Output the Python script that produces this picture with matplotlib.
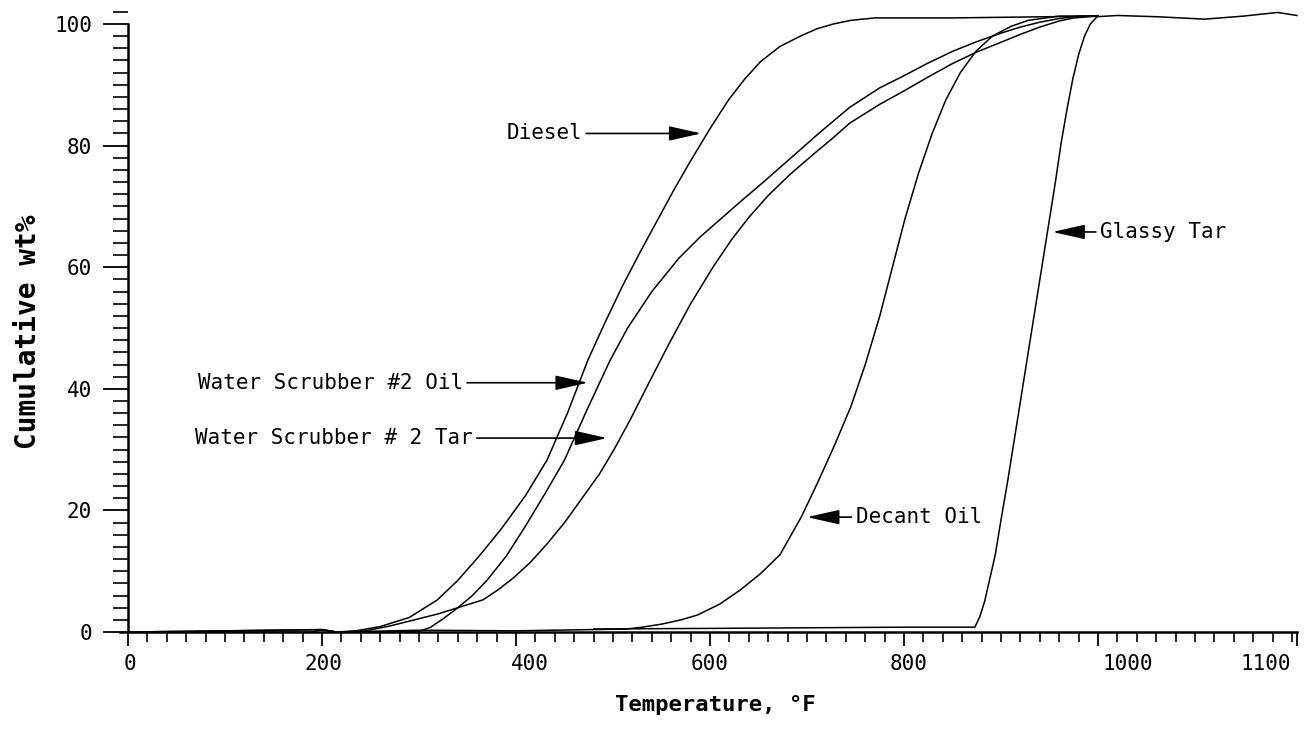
import matplotlib
matplotlib.use('Agg')
import matplotlib.pyplot as plt
from matplotlib.ticker import MultipleLocator, FixedLocator

# distillation curves, temperature (F) vs cumulative wt%
diesel_T = [0, 100, 190, 200, 215, 235, 260, 290, 319, 340, 362, 385, 410, 432,
            453, 474, 492, 510, 528, 546, 563, 580, 600, 619, 636, 652, 672,
            693, 710, 727, 745, 770, 850, 950, 1000]
diesel_W = [0, 0, 0, 0.4, 0, 0.2, 0.9, 2.4, 5.3, 8.5, 12.5, 17, 22.5, 28.3,
            36, 44.7, 51, 57, 62.5, 67.8, 72.8, 77.5, 82.8, 87.5, 91, 93.8, 96.3,
            98, 99.2, 100, 100.6, 101, 101, 101.2, 101.3]

oil_T = [0, 200, 215, 300, 312, 325, 340, 355, 370, 390, 410, 430, 450, 473,
         497, 515, 540, 568, 590, 610, 630, 655, 680, 712, 744, 775, 800, 825,
         850, 875, 900, 920, 940, 960, 980, 1000]
oil_W = [0, 0.4, 0, 0.1, 0.8, 2.2, 4, 6, 8.5, 12.5, 17.5, 22.8, 28.3, 36.5,
         44.7, 50, 56, 61.5, 65, 67.8, 70.6, 74, 77.5, 82, 86.3, 89.5, 91.5,
         93.6, 95.5, 97.1, 98.5, 99.5, 100.3, 100.9, 101.3, 101.3]

tar_T = [0, 200, 215, 245, 270, 300, 320, 340, 366, 382, 398, 415, 432, 450,
         468, 486, 501, 518, 537, 558, 580, 603, 622, 640, 660, 682, 706, 727,
         744, 775, 800, 825, 850, 875, 900, 920, 940, 960, 975, 1000]
tar_W = [0, 0.4, 0, 0.2, 1.0, 2.2, 3.0, 4, 5.3, 7, 9, 11.5, 14.5, 18,
         22, 26, 30, 35, 41, 47.5, 54, 60, 64.5, 68.2, 71.8, 75.2, 78.5, 81.3,
         83.7, 86.8, 89, 91.3, 93.5, 95.4, 97, 98.3, 99.5, 100.5, 101, 101.3]

decant_T = [200, 215, 300, 400, 514, 530, 550, 570, 587, 610, 631, 652, 672,
            694, 711, 728, 745, 760, 775, 788, 801, 815, 829, 843, 858, 874,
            891, 910, 928, 960, 1000]
decant_W = [0.3, 0, 0.3, 0.2, 0.5, 0.8, 1.3, 2.0, 2.8, 4.6, 6.9, 9.6, 12.7,
            18.9, 24.6, 30.6, 37, 44, 52, 60, 68, 75.5, 82, 87.5, 92, 95.5,
            98, 99.6, 100.6, 101.3, 101.3]

glassy_T = [480, 600, 700, 800, 873, 878, 883, 888, 894, 900, 907, 914, 921,
            928, 935, 942, 949, 956, 962, 968, 974, 980, 986, 992, 999, 1020,
            1060, 1110, 1150, 1185, 1205]
glassy_W = [0.5, 0.6, 0.7, 0.8, 0.8, 2.5, 5, 8.5, 12.7, 18.5, 25, 32, 39,
            46, 53, 60, 67, 74, 80.5, 86, 91, 95, 98, 100, 101.2, 101.4,
            101.2, 100.8, 101.3, 101.9, 101.4]

y_ticks = [0, 20, 40, 60, 80, 100]
x_major = [0, 200, 400, 600, 800, 1000, 1205]
# labels sit where the original print put them
x_label_pos = [2, 201, 414, 600, 805, 1031, 1173]
x_label_txt = ['0', '200', '400', '600', '800', '1000', '1100']

# label text, arrow tip (T, W), text start (T, W)
notes = [
    ('Diesel', (591, 82.0), (390, 82.0)),
    ('Water Scrubber #2 Oil', (474, 41.0), (72, 41.0)),
    ('Water Scrubber # 2 Tar', (494, 31.9), (69, 31.9)),
    ('Decant Oil', (700, 18.9), (750, 18.9)),
    ('Glassy Tar', (953, 65.8), (1002, 65.8)),
]

mono = 'DejaVu Sans Mono'

fig = plt.figure(figsize=(13.05, 7.35), dpi=100)
ax = fig.add_axes([0.09214, 0.1318, 0.9054, 0.8645])

for T, W in [(diesel_T, diesel_W), (oil_T, oil_W), (tar_T, tar_W),
             (decant_T, decant_W), (glassy_T, glassy_W)]:
    ax.plot(T, W, color='black', lw=1.1, clip_on=False)

ax.set_xlim(-8, 1210)
ax.set_ylim(-1, 103.5)

for s in ['top', 'right']:
    ax.spines[s].set_visible(False)
ax.spines['left'].set_position(('data', 0))
ax.spines['bottom'].set_position(('data', 0))
ax.spines['left'].set_bounds(0, 100)
ax.spines['bottom'].set_bounds(-8, 1205)
ax.spines['left'].set_linewidth(1.8)
ax.spines['bottom'].set_linewidth(1.8)

ax.set_yticks(y_ticks)
ax.set_yticklabels([str(v) for v in y_ticks], family=mono, fontsize=15)
ax.yaxis.set_minor_locator(MultipleLocator(2))
ax.tick_params(axis='y', which='major', length=18, width=1.3, pad=8)
ax.tick_params(axis='y', which='minor', length=11, width=1.2)

ax.xaxis.set_major_locator(FixedLocator(x_major))
ax.xaxis.set_minor_locator(MultipleLocator(20))
ax.tick_params(axis='x', which='major', length=10, width=1.3, labelbottom=False)
ax.tick_params(axis='x', which='minor', length=7, width=1.2)

sec = ax.secondary_xaxis(0)
sec.set_xticks(x_label_pos, labels=x_label_txt)
sec.tick_params(length=0, pad=11.5, labelsize=15)
for lab in sec.get_xticklabels():
    lab.set_family(mono)
sec.spines['bottom'].set_visible(False)

for txt, tip, start in notes:
    ax.annotate(txt, xy=tip, xytext=start, ha='left', va='center',
                family=mono, fontsize=15, annotation_clip=False,
                arrowprops=dict(arrowstyle='-|>,head_length=2.0,head_width=0.45',
                                color='black', lw=1.2, shrinkA=1, shrinkB=0,
                                mutation_scale=10))

fig.text(715 / 1305, 1 - 705 / 735, 'Temperature, °F', ha='center', va='center',
         family=mono, fontweight='bold', fontsize=16)
fig.text(28 / 1305, 1 - 332 / 735, 'Cumulative wt%', ha='center', va='center',
         rotation=90, family=mono, fontweight='bold', fontsize=20)

fig.savefig('out.png', dpi=100)
